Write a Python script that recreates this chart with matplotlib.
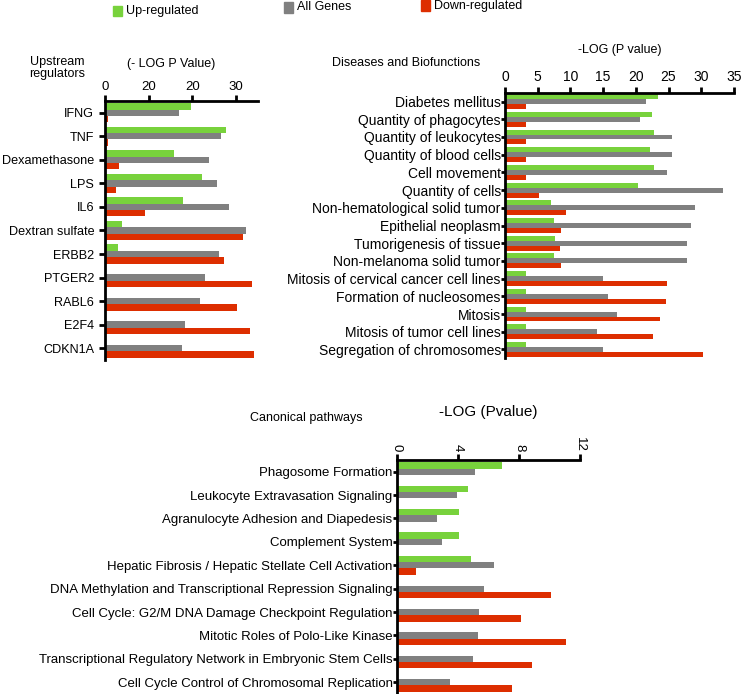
import numpy as np
import matplotlib.pyplot as plt
from matplotlib.patches import Rectangle

plt.rcParams['font.family'] = ['Liberation Sans', 'DejaVu Sans']

GREEN = '#78d23c'
GRAY = '#808080'
RED = '#dd2e00'

# Upstream regulators
reg_names = ["IFNG", "TNF", "Dexamethasone", "LPS", "IL6", "Dextran sulfate",
             "ERBB2", "PTGER2", "RABL6", "E2F4", "CDKN1A"]
reg_up = [19.7, 27.7, 15.7, 22.3, 17.8, 3.8, 3.0, 0, 0, 0, 0]
reg_all = [17.0, 26.6, 23.7, 25.7, 28.4, 32.3, 26.0, 22.9, 21.8, 18.4, 17.7]
reg_down = [0.7, 0.7, 3.2, 2.4, 9.1, 31.7, 27.2, 33.8, 30.2, 33.3, 34.2]
reg_ticks = [0, 10, 20, 30]
reg_ticklabels = ["0", "20", "20", "30"]

# Diseases and biofunctions
dis_names = ["Diabetes mellitus", "Quantity of phagocytes", "Quantity of leukocytes",
             "Quantity of blood cells", "Cell movement", "Quantity of cells",
             "Non-hematological solid tumor", "Epithelial neoplasm",
             "Tumorigenesis of tissue", "Non-melanoma solid tumor",
             "Mitosis of cervical cancer cell lines", "Formation of nucleosomes",
             "Mitosis", "Mitosis of tumor cell lines", "Segregation of chromosomes"]
dis_up = [23.4, 22.4, 22.8, 22.2, 22.8, 20.3, 7.0, 7.5, 7.6, 7.5, 3.2, 3.2, 3.2, 3.2, 3.2]
dis_all = [21.5, 20.7, 25.6, 25.5, 24.7, 33.3, 29.0, 28.4, 27.8, 27.8, 15.0, 15.8, 17.1, 14.1, 15.0]
dis_down = [3.2, 3.2, 3.2, 3.2, 3.2, 5.2, 9.4, 8.6, 8.4, 8.5, 24.7, 24.6, 23.7, 22.6, 30.2]
dis_ticks = [0, 5, 10, 15, 20, 25, 30, 35]

# Canonical pathways
can_names = ["Phagosome Formation", "Leukocyte Extravasation Signaling",
             "Agranulocyte Adhesion and Diapedesis", "Complement System",
             "Hepatic Fibrosis / Hepatic Stellate Cell Activation",
             "DNA Methylation and Transcriptional Repression Signaling",
             "Cell Cycle: G2/M DNA Damage Checkpoint Regulation",
             "Mitotic Roles of Polo-Like Kinase",
             "Transcriptional Regulatory Network in Embryonic Stem Cells",
             "Cell Cycle Control of Chromosomal Replication"]
can_up = [6.88, 4.69, 4.10, 4.10, 4.85, 0, 0, 0, 0, 0]
can_all = [5.15, 3.95, 2.66, 2.97, 6.38, 5.72, 5.41, 5.35, 5.02, 3.49]
can_down = [0, 0, 0, 0, 1.27, 10.1, 8.12, 11.1, 8.86, 7.55]
can_ticks = [0, 4, 8, 12]


def draw(ax, names, up, allg, down, h, fs):
    y = np.arange(len(names))
    ax.barh(y - h, up, height=h, color=GREEN)
    ax.barh(y, allg, height=h, color=GRAY)
    ax.barh(y + h, down, height=h, color=RED)
    ax.set_yticks(y)
    ax.set_yticklabels(names, fontsize=fs)
    ax.set_ylim(len(names) - 0.5, -0.5)
    ax.xaxis.tick_top()
    for s in ["right", "bottom"]:
        ax.spines[s].set_visible(False)
    for s in ["top", "left"]:
        ax.spines[s].set_linewidth(2)
    ax.tick_params(width=2, length=4, color="black")


fig = plt.figure(figsize=(7.41, 6.94), dpi=100)

ax1 = fig.add_axes([0.1421, 0.4813, 0.2057, 0.3732])
draw(ax1, reg_names, reg_up, reg_all, reg_down, 0.27, 9.1)
ax1.set_xlim(0, 35)
ax1.set_xticks(reg_ticks)
ax1.set_xticklabels(reg_ticklabels, fontsize=9.5)
ax1.tick_params(axis="y", pad=4)
ax1.tick_params(axis="x", pad=2)

ax2 = fig.add_axes([0.6815, 0.4837, 0.3090, 0.3827])
draw(ax2, dis_names, dis_up, dis_all, dis_down, 0.28, 10)
ax2.set_xlim(0, 35)
ax2.set_xticks(dis_ticks)
ax2.tick_params(axis="x", labelsize=10, pad=2)
ax2.tick_params(axis="y", pad=0, length=3)

ax3 = fig.add_axes([0.5354, 0.0, 0.2474, 0.3372])
draw(ax3, can_names, can_up, can_all, can_down, 0.27, 9.5)
ax3.set_xlim(0, 12)
ax3.set_xticks(can_ticks)
ax3.tick_params(axis="x", labelsize=9.5, labelrotation=-90, pad=2)
ax3.tick_params(axis="y", pad=0, length=3)

fig.text(0.0769, 0.902, "Upstream\nregulators", fontsize=9, ha="center", va="center", linespacing=1.05)
fig.text(0.2304, 0.9078, "(- LOG P Value)", fontsize=9, ha="center", va="center")
fig.text(0.5479, 0.9092, "Diseases and Biofunctions", fontsize=9, ha="center", va="center")
fig.text(0.8367, 0.928, "-LOG (P value)", fontsize=9, ha="center", va="center")
fig.text(0.4139, 0.3977, "Canonical pathways", fontsize=9, ha="center", va="center")
fig.text(0.6586, 0.4063, "-LOG (Pvalue)", fontsize=11, ha="center", va="center")

# legend
legend_items = [("Up-regulated", GREEN, 113, 11), ("All Genes", GRAY, 284, 7.5), ("Down-regulated", RED, 421, 5.5)]
W, H = 741, 694
for label, col, x0, yc in legend_items:
    fig.add_artist(Rectangle((x0 / W, 1 - (yc + 5) / H), 9 / W, 10 / H,
                             transform=fig.transFigure, color=col))
    fig.text((x0 + 13) / W, 1 - yc / H, label, fontsize=9, ha="left", va="center")

fig.savefig("out.png", dpi=100)
